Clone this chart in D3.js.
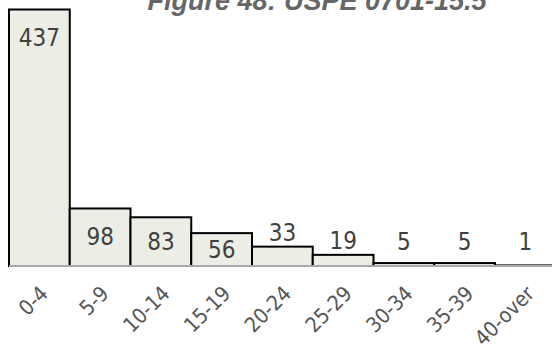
<!DOCTYPE html>
<html>
<head>
<meta charset="utf-8">
<script src="https://cdn.jsdelivr.net/npm/d3@7"></script>
<style>
  html, body { margin: 0; padding: 0; background: #fff; }
  svg { display: block; }
</style>
</head>
<body>
<svg id="chart" width="552" height="354"></svg>
<script>
// Age-group histogram
const categories = ["0-4", "5-9", "10-14", "15-19", "20-24", "25-29", "30-34", "35-39", "40-over"];
const counts = [437, 98, 83, 56, 33, 19, 5, 5, 1];
const title = "Figure 48: USPE 0701-15.5";

const width = 552, height = 354;
const svg = d3.select("#chart");

const x = d3.scaleBand()
  .domain(categories)
  .range([9, 555.75])
  .paddingInner(0)
  .paddingOuter(0);

const y = d3.scaleLinear()
  .domain([0, 437])
  .range([266, 9.5]);

const labelFont = "'DejaVu Sans Condensed', 'DejaVu Sans', sans-serif";

// title (sits partly above the top edge)
svg.append("text")
  .attr("x", 317)
  .attr("y", 10)
  .attr("text-anchor", "middle")
  .attr("font-family", "'Liberation Sans', Arial, sans-serif")
  .attr("font-weight", "bold")
  .attr("font-style", "italic")
  .attr("font-size", 27)
  .attr("fill", "#666")
  .text(title);

// bars
svg.append("g")
  .selectAll("rect")
  .data(counts)
  .join("rect")
  .attr("x", (d, i) => x(categories[i]))
  .attr("y", d => y(d))
  .attr("width", x.bandwidth())
  .attr("height", d => y(0) - y(d))
  .attr("fill", "#eceee6")
  .attr("stroke", "#000")
  .attr("stroke-width", 2);

// baseline axis
const axis = d3.axisBottom(x).tickSize(0).tickPadding(0);
const gx = svg.append("g")
  .attr("transform", `translate(0,${y(0)})`)
  .call(axis);
gx.select(".domain")
  .attr("d", `M9,0H552`)
  .attr("stroke", "#a8a8a8")
  .attr("stroke-width", 2);
gx.selectAll(".tick text")
  .attr("font-family", labelFont)
  .attr("font-size", 21)
  .attr("fill", "#555")
  .attr("text-anchor", "end")
  .attr("dy", 0)
  .attr("y", 0)
  .attr("transform", "translate(10,29) rotate(-45)");

// value labels: centred in tall bars (capped near the top), above short ones
svg.append("g")
  .selectAll("text")
  .data(counts)
  .join("text")
  .attr("x", (d, i) => x(categories[i]) + x.bandwidth() / 2)
  .attr("y", d => {
    const top = y(d), h = y(0) - top;
    const cy = h >= 30 ? Math.min((top + y(0)) / 2, top + 28) : Math.min(top - 14, 241);
    return cy;
  })
  .attr("dy", "0.36em")
  .attr("text-anchor", "middle")
  .attr("font-family", labelFont)
  .attr("font-size", 24)
  .attr("fill", "#404040")
  .text(d => d);
</script>
</body>
</html>
